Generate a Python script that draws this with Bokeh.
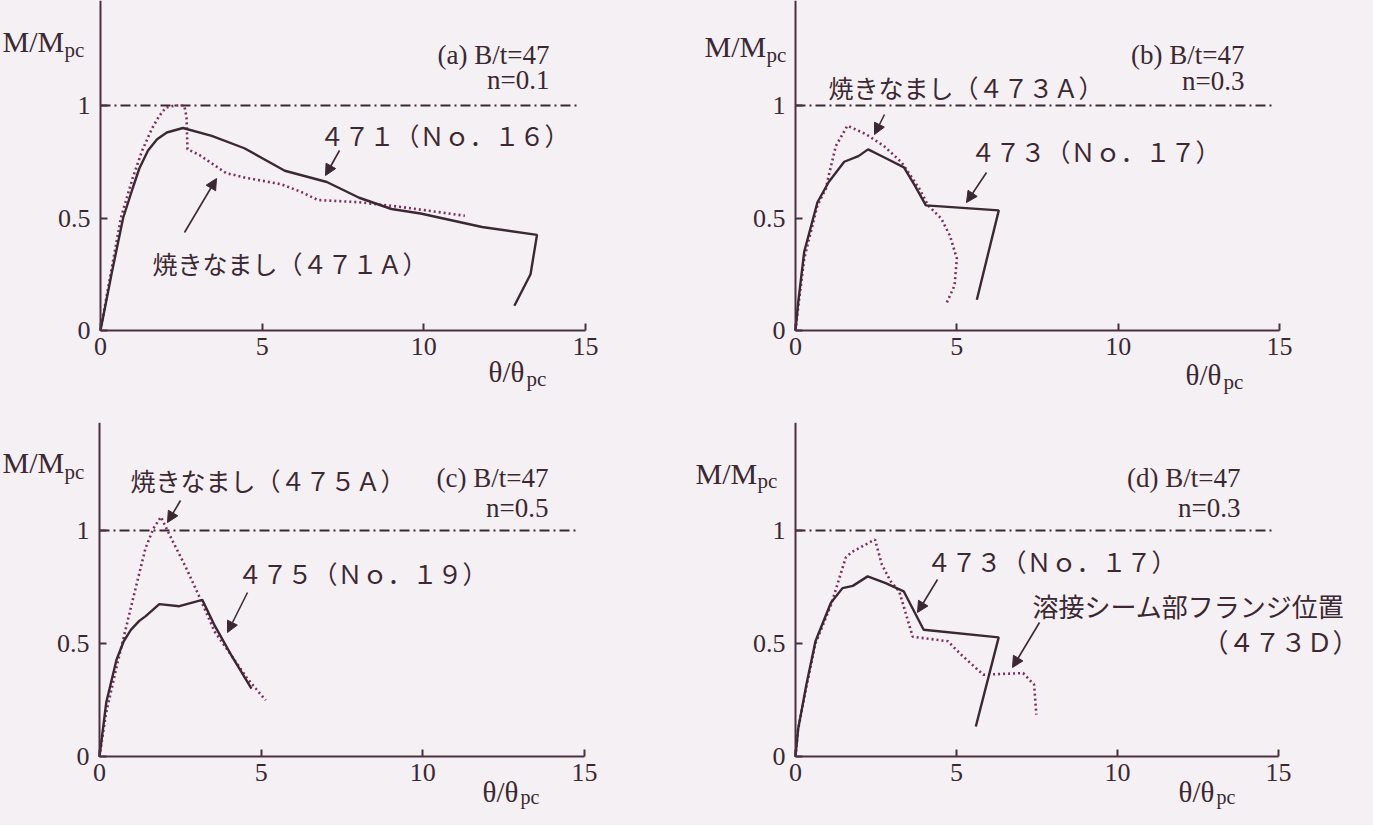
from bokeh.plotting import figure
from bokeh.layouts import column, row
from bokeh.models import Range1d, FixedTicker, Label, Arrow, NormalHead
from bokeh.embed import file_html
from bokeh.resources import INLINE

# ---------------- data ----------------
x_ticks = [0, 5, 10, 15]
y_ticks = [0, 0.5, 1]
y_tick_labels = ["0", "0.5", "1"]

ref_x = [0, 14.8]          # M/Mpc = 1 reference line
ref_y = [1.0, 1.0]

# (a) B/t=47, n=0.1
a_471_x = [0, 0.34, 0.7, 0.99, 1.2, 1.47, 1.75, 2.05, 2.55, 3.44, 4.45, 5.7, 7.0, 8.0, 9.0, 9.9, 11.8, 13.5, 13.3, 12.8]
a_471_y = [0, 0.25, 0.5, 0.63, 0.72, 0.80, 0.85, 0.88, 0.90, 0.865, 0.81, 0.71, 0.66, 0.59, 0.54, 0.52, 0.46, 0.425, 0.25, 0.11]
a_471A_x = [0, 0.3, 0.63, 1.0, 1.29, 1.6, 1.82, 2.02, 2.3, 2.59, 2.66, 2.69, 3.06, 3.88, 4.45, 5.59, 6.22, 6.72, 8.0, 9.25, 11.27]
a_471A_y = [0, 0.24, 0.5, 0.68, 0.8, 0.9, 0.954, 0.99, 1.0, 1.0, 0.95, 0.806, 0.78, 0.70, 0.68, 0.65, 0.615, 0.58, 0.57, 0.55, 0.51]

# (b) B/t=47, n=0.3
b_473_x = [0, 0.08, 0.27, 0.68, 1.03, 1.51, 1.95, 2.25, 2.74, 3.36, 3.7, 4.04, 6.3, 5.62]
b_473_y = [0, 0.12, 0.35, 0.57, 0.66, 0.75, 0.775, 0.805, 0.77, 0.725, 0.644, 0.556, 0.534, 0.137]
b_473A_x = [0, 0.08, 0.27, 0.68, 0.94, 1.04, 1.25, 1.61, 2.19, 2.74, 3.29, 3.84, 4.11, 4.52, 4.79, 5.0, 4.93, 4.66]
b_473A_y = [0, 0.1, 0.32, 0.556, 0.63, 0.695, 0.82, 0.91, 0.872, 0.82, 0.747, 0.63, 0.556, 0.497, 0.42, 0.32, 0.2, 0.115]

# (c) B/t=47, n=0.5
c_475_x = [0, 0.21, 0.53, 0.75, 0.97, 1.23, 1.42, 1.85, 2.47, 3.18, 3.56, 4.07, 4.7]
c_475_y = [0, 0.24, 0.43, 0.51, 0.56, 0.60, 0.62, 0.674, 0.665, 0.693, 0.58, 0.45, 0.30]
c_475A_x = [0, 0.2, 0.55, 1.04, 1.42, 1.67, 1.9, 2.17, 2.68, 3.06, 3.56, 4.07, 4.57, 5.14]
c_475A_y = [0, 0.19, 0.41, 0.70, 0.92, 1.01, 1.06, 0.98, 0.834, 0.716, 0.553, 0.449, 0.345, 0.249]

# (d) B/t=47, n=0.3
d_473_x = [0, 0.08, 0.34, 0.62, 1.1, 1.46, 1.78, 2.24, 2.8, 3.36, 3.98, 6.31, 5.6]
d_473_y = [0, 0.12, 0.32, 0.51, 0.68, 0.745, 0.755, 0.797, 0.767, 0.731, 0.561, 0.527, 0.133]
d_473D_x = [0, 0.08, 0.34, 0.62, 1.1, 1.2, 1.56, 1.75, 2.4, 2.47, 2.68, 2.95, 3.22, 3.64, 4.73, 5.15, 5.83, 7.07, 7.41, 7.48]
d_473D_y = [0, 0.12, 0.31, 0.5, 0.67, 0.715, 0.88, 0.905, 0.955, 0.96, 0.85, 0.776, 0.731, 0.53, 0.51, 0.45, 0.362, 0.369, 0.318, 0.185]

# ---------------- style ----------------
BG = "#f5f0f3"
INK = "#3b2832"
DOT = "#7d2f63"
AXIS = "#4b3140"
SERIF = "Liberation Serif"
CJK = "Noto Sans CJK JP"


class Panel:
    """One sub-chart.  The plot frame fills the whole canvas so that texts
    outside the axes are not clipped; the axes are pinned at x=0 / y=0."""

    def __init__(self, fig_left, fig_top, W, H, X0, Y0, sx, sy):
        self.X0, self.Y0, self.sx, self.sy = X0, Y0, sx, sy
        xr = Range1d((fig_left - X0) / sx, (fig_left + W - X0) / sx)
        yr = Range1d((Y0 - fig_top - H) / sy, (Y0 - fig_top) / sy)
        ytop = (Y0 - fig_top) / sy
        p = figure(width=W, height=H, x_range=xr, y_range=yr,
                   output_backend="svg", toolbar_location=None, min_border=0)
        p.background_fill_color = BG
        p.border_fill_color = BG
        p.outline_line_color = None
        p.grid.visible = False
        xa = p.xaxis[0]
        ya = p.yaxis[0]
        xa.fixed_location = 0
        ya.fixed_location = 0
        xa.bounds = (0, 15)
        ya.bounds = (0, ytop)
        xa.ticker = FixedTicker(ticks=x_ticks)
        ya.ticker = FixedTicker(ticks=y_ticks)
        ya.major_label_overrides = {t: s for t, s in zip(y_ticks, y_tick_labels)}
        for ax in (xa, ya):
            ax.axis_line_color = AXIS
            ax.axis_line_width = 2
            ax.major_tick_line_color = AXIS
            ax.major_tick_line_width = 2
            ax.major_tick_in = 7
            ax.major_tick_out = 0
            ax.minor_tick_line_color = None
            ax.major_label_text_font = SERIF
            ax.major_label_text_font_size = "26px"
            ax.major_label_text_color = INK
        xa.major_label_standoff = 7
        ya.major_label_standoff = 10
        p.line(ref_x, ref_y, line_color=INK, line_width=2, line_dash="10 4 2 4")
        self.p = p

    def d(self, X, Y):
        return (X - self.X0) / self.sx, (self.Y0 - Y) / self.sy

    def curves(self, xs, ys, xd, yd):
        self.p.line(xd, yd, line_color=DOT, line_width=2.6, line_dash="2 3")
        self.p.line(xs, ys, line_color=INK, line_width=2.4)

    def text(self, X, Y, s, font=SERIF, size=27, align="left"):
        x, y = self.d(X, Y)
        self.p.add_layout(Label(x=x, y=y, text=s, text_font=font, text_font_size=f"{size}px",
                                text_color=INK, text_align=align, text_baseline="middle"))

    def mlabel(self, X, Y, main, sub, gap, dy, size=30, subsize=21):
        self.text(X, Y, main, size=size)
        self.text(X + gap, Y + dy, sub, size=subsize)

    def arrow(self, X1, Y1, X2, Y2):
        x1, y1 = self.d(X1, Y1)
        x2, y2 = self.d(X2, Y2)
        self.p.add_layout(Arrow(end=NormalHead(size=11, fill_color=INK, line_color=INK, line_width=1),
                                x_start=x1, y_start=y1, x_end=x2, y_end=y2,
                                line_color=INK, line_width=1.6))


# (a)
A = Panel(8, 8, 692, 422, 108, 338, 485 / 15, 225)
A.curves(a_471_x, a_471_y, a_471A_x, a_471A_y)
A.mlabel(10, 49, "M/M", "pc", 62, 8)
A.text(557, 62, "(a) B/t=47", align="right")
A.text(557, 87, "n=0.1", align="right")
A.text(327, 142, "４７１（Ｎｏ．１６）", font=CJK, size=25)
A.text(160, 270, "焼きなまし（４７１Ａ）", font=CJK, size=25)
A.arrow(347, 158, 333, 183)
A.arrow(192, 240, 224, 186)
A.mlabel(496, 379, "θ/θ", "pc", 38, 7, size=29)

# (b)
B = Panel(700, 8, 665, 422, 803, 338, 484 / 15, 225)
B.curves(b_473_x, b_473_y, b_473A_x, b_473A_y)
B.mlabel(712, 54, "M/M", "pc", 62, 8)
B.text(1252, 62, "(b) B/t=47", align="right")
B.text(1252, 88, "n=0.3", align="right")
B.text(836, 94, "焼きなまし（４７３Ａ）", font=CJK, size=25)
B.text(978, 158, "４７３（Ｎｏ．１７）", font=CJK, size=25)
B.arrow(892, 122, 882, 142)
B.arrow(994, 180, 974, 210)
B.mlabel(1193, 382, "θ/θ", "pc", 38, 7, size=29)

# (c)
C = Panel(8, 430, 692, 387, 107, 764, 485 / 15, 226)
C.curves(c_475_x, c_475_y, c_475A_x, c_475A_y)
C.mlabel(10, 470, "M/M", "pc", 62, 9)
C.text(138, 487, "焼きなまし（４７５Ａ）", font=CJK, size=25)
C.text(556, 485, "(c) B/t=47", align="right")
C.text(556, 515, "n=0.5", align="right")
C.text(245, 580, "４７５（Ｎｏ．１９）", font=CJK, size=25)
C.arrow(188, 508, 175, 530)
C.arrow(255, 600, 235, 640)
C.mlabel(490, 799, "θ/θ", "pc", 38, 5, size=29, subsize=20)

# (d)
D = Panel(700, 430, 665, 387, 803, 764, 483 / 15, 226)
D.curves(d_473_x, d_473_y, d_473D_x, d_473D_y)
D.mlabel(703, 481, "M/M", "pc", 62, 7)
D.text(1248, 485, "(d) B/t=47", align="right")
D.text(1248, 515, "n=0.3", align="right")
D.text(934, 568, "４７３（Ｎｏ．１７）", font=CJK, size=25)
D.text(1040, 613, "溶接シーム部フランジ位置", font=CJK, size=26)
D.text(1210, 648, "（４７３Ｄ）", font=CJK, size=26)
D.arrow(945, 587, 925, 620)
D.arrow(1047, 630, 1020, 675)
D.mlabel(1186, 799, "θ/θ", "pc", 38, 5, size=29, subsize=20)

layout = column(row(A.p, B.p), row(C.p, D.p))
html = file_html(layout, INLINE)
html = html.replace("</head>", "<style>html, body { background-color: %s; }</style></head>" % BG, 1)
open("out.html", "w").write(html)
